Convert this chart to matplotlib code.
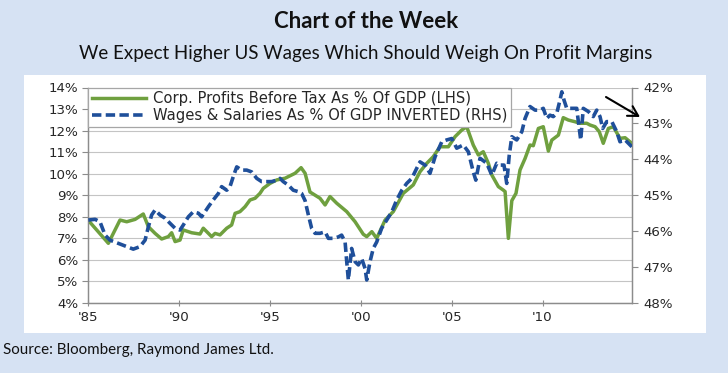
import matplotlib
matplotlib.use("Agg")
import matplotlib.pyplot as plt
from matplotlib.patches import FancyArrowPatch
from matplotlib.ticker import FixedLocator

# ---------------- data ----------------
profit_years = [1985.00, 1986.12, 1986.76, 1987.13, 1987.59, 1988.04, 1988.32, 1988.69,
                1989.05, 1989.42, 1989.60, 1989.79, 1990.06, 1990.24, 1990.70, 1991.16,
                1991.34, 1991.80, 1991.99, 1992.26, 1992.63, 1992.90, 1993.09, 1993.36,
                1993.64, 1993.91, 1994.19, 1994.46, 1994.64, 1995.01, 1995.38, 1995.84,
                1996.39, 1996.72, 1996.94, 1997.21, 1997.76, 1998.04, 1998.31, 1998.68,
                1999.23, 1999.69, 2000.14, 2000.33, 2000.61, 2000.88, 2001.34, 2001.79,
                2002.34, 2002.89, 2003.26, 2003.63, 2003.99, 2004.36, 2004.82, 2005.19,
                2005.56, 2005.83, 2006.19, 2006.47, 2006.74, 2007.02, 2007.21, 2007.57,
                2007.84, 2007.94, 2008.12, 2008.31, 2008.54, 2008.76, 2009.04, 2009.31,
                2009.49, 2009.77, 2010.04, 2010.32, 2010.51, 2010.87, 2011.14, 2011.42,
                2011.79, 2012.06, 2012.43, 2012.61, 2012.89, 2013.12, 2013.34, 2013.62,
                2013.89, 2014.26, 2014.54, 2014.91]
profit_pct = [7.85, 6.77, 7.85, 7.77, 7.88, 8.13, 7.54, 7.23,
              6.97, 7.08, 7.26, 6.85, 6.92, 7.39, 7.26, 7.20,
              7.47, 7.08, 7.23, 7.16, 7.47, 7.62, 8.16, 8.24,
              8.47, 8.78, 8.86, 9.09, 9.32, 9.55, 9.71, 9.79,
              10.02, 10.28, 10.02, 9.15, 8.86, 8.55, 8.94, 8.63,
              8.24, 7.77, 7.19, 7.08, 7.31, 7.00, 7.85, 8.24,
              9.09, 9.48, 10.09, 10.48, 10.79, 11.25, 11.25, 11.72,
              12.03, 12.18, 11.33, 10.87, 11.02, 10.48, 9.94, 9.40,
              9.24, 9.17, 7.00, 8.75, 9.09, 10.17, 10.71, 11.33,
              11.30, 12.10, 12.18, 11.05, 11.56, 11.79, 12.60, 12.49,
              12.41, 12.34, 12.34, 12.26, 12.18, 11.95, 11.41, 12.10,
              12.18, 11.64, 11.67, 11.41]

wage_years = [1985.02, 1985.39, 1985.66, 1985.94, 1986.21, 1986.67, 1987.13, 1987.49,
              1987.86, 1988.14, 1988.32, 1988.50, 1988.69, 1988.96, 1989.24, 1989.51,
              1989.79, 1990.06, 1990.24, 1990.52, 1990.79, 1991.07, 1991.25, 1991.62,
              1991.89, 1992.17, 1992.35, 1992.63, 1992.81, 1992.99, 1993.18, 1993.45,
              1993.73, 1994.00, 1994.28, 1994.55, 1994.83, 1995.10, 1995.38, 1995.56,
              1995.74, 1996.02, 1996.29, 1996.57, 1996.75, 1996.94, 1997.12, 1997.30,
              1997.49, 1997.76, 1998.04, 1998.22, 1998.49, 1998.77, 1998.95, 1999.14,
              1999.23, 1999.32, 1999.50, 1999.69, 1999.87, 2000.05, 2000.24, 2000.33,
              2000.51, 2000.69, 2000.88, 2001.15, 2001.43, 2001.71, 2001.98, 2002.26,
              2002.53, 2002.81, 2003.08, 2003.26, 2003.54, 2003.81, 2004.09, 2004.46,
              2004.73, 2005.01, 2005.28, 2005.64, 2005.92, 2006.19, 2006.33, 2006.56,
              2006.93, 2007.21, 2007.48, 2007.66, 2007.88, 2008.03, 2008.17, 2008.31,
              2008.58, 2008.86, 2009.04, 2009.31, 2009.59, 2009.86, 2010.04, 2010.23,
              2010.41, 2010.59, 2010.78, 2010.96, 2011.06, 2011.18, 2011.33, 2011.61,
              2011.88, 2011.97, 2012.10, 2012.24, 2012.52, 2012.79, 2012.98, 2013.16,
              2013.31, 2013.53, 2013.81, 2014.08, 2014.26, 2014.54, 2014.91]
wage_pct = [45.69, 45.67, 45.74, 46.11, 46.25, 46.34, 46.43, 46.50,
            46.43, 46.25, 45.88, 45.55, 45.41, 45.55, 45.64, 45.78,
            45.92, 45.97, 45.83, 45.60, 45.46, 45.50, 45.60, 45.32,
            45.13, 44.95, 44.76, 44.86, 44.76, 44.48, 44.21, 44.30,
            44.30, 44.35, 44.53, 44.62, 44.62, 44.62, 44.58, 44.53,
            44.62, 44.72, 44.86, 44.90, 44.95, 45.15, 45.55, 45.92,
            46.06, 46.06, 46.02, 46.20, 46.20, 46.16, 46.11, 46.30,
            46.85, 47.36, 46.48, 46.85, 46.94, 46.76, 47.04, 47.36,
            46.85, 46.48, 46.30, 45.92, 45.69, 45.46, 45.13, 44.86,
            44.67, 44.53, 44.25, 44.07, 44.16, 44.39, 43.93, 43.51,
            43.46, 43.42, 43.69, 43.60, 43.79, 44.35, 44.58, 43.97,
            44.11, 44.44, 44.11, 44.16, 44.16, 44.67, 43.88, 43.37,
            43.46, 43.23, 42.86, 42.53, 42.63, 42.63, 42.58, 42.86,
            42.77, 42.81, 42.72, 42.35, 42.12, 42.35, 42.58, 42.58,
            42.58, 42.95, 43.46, 42.58, 42.67, 42.81, 42.63, 42.81,
            43.14, 42.95, 42.95, 43.23, 43.51, 43.46, 43.65]

x_ticks = [1985, 1990, 1995, 2000, 2005, 2010]
x_tick_labels = ["'85", "'90", "'95", "'00", "'05", "'10"]
left_ticks = [4, 5, 6, 7, 8, 9, 10, 11, 12, 13, 14]
right_ticks = [42, 43, 44, 45, 46, 47, 48]

title = "Chart of the Week"
subtitle = "We Expect Higher US Wages Which Should Weigh On Profit Margins"
source = "Source: Bloomberg, Raymond James Ltd."
label_profit = "Corp. Profits Before Tax As % Of GDP (LHS)"
label_wage = "Wages & Salaries As % Of GDP INVERTED (RHS)"

# ---------------- figure ----------------
W, H = 728, 373
fig = plt.figure(figsize=(W / 100, H / 100), dpi=100)
fig.patch.set_facecolor("#d6e2f3")

# white panel (behind everything)
panel = fig.add_axes([24 / W, 1 - 333 / H, (706 - 24) / W, (333 - 75) / H], zorder=-5)
panel.set_facecolor("white")
panel.set_xticks([])
panel.set_yticks([])
for s in panel.spines.values():
    s.set_visible(False)

fig.text(0.503, 1 - 21 / H, title, ha="center", va="center",
         fontsize=16, fontweight="bold", family="Lato", color="#111111")
fig.text(0.503, 1 - 54 / H, subtitle, ha="center", va="center",
         fontsize=13.5, family="Lato", color="#111111")
fig.text(3 / W, 1 - 350 / H, source, ha="left", va="center",
         fontsize=10.9, family="Lato", color="#111111")

ax = fig.add_axes([88 / W, 1 - 303 / H, (632 - 88) / W, (303 - 87.5) / H], zorder=1)
ax.set_facecolor("none")
ax2 = ax.twinx()

green = "#6fa03f"
blue = "#1f4f9a"
gray = "#8c8c8c"

ax.plot(profit_years, profit_pct, color=green, lw=2.5, solid_joinstyle="round",
        label=label_profit, zorder=3)
ln2, = ax2.plot(wage_years, wage_pct, color=blue, lw=2.6, dashes=(2.6, 1.2),
                label=label_wage, zorder=3)

ax.set_xlim(1985, 2014.92)
ax.set_ylim(4, 14)
ax2.set_ylim(48, 42)

ax.yaxis.set_major_locator(FixedLocator(left_ticks))
ax.set_yticklabels([f"{v}%" for v in left_ticks])
ax2.yaxis.set_major_locator(FixedLocator(right_ticks))
ax2.set_yticklabels([f"{v}%" for v in right_ticks])
ax.set_xticks(x_ticks)
ax.set_xticklabels(x_tick_labels)

ax.grid(axis="y", color="#c4c4c4", lw=0.8)
ax.set_axisbelow(True)

for a in (ax, ax2):
    for s in a.spines.values():
        s.set_color(gray)
        s.set_linewidth(0.9)
    a.spines["top"].set_visible(False)

tick_fs = 9.6
ax.tick_params(axis="y", direction="out", length=4, color=gray, labelsize=tick_fs,
               labelcolor="#262626", pad=3)
ax2.tick_params(axis="y", direction="out", length=4, color=gray, labelsize=tick_fs,
                labelcolor="#262626", pad=4)
ax.tick_params(axis="x", direction="inout", length=5, color=gray, labelsize=tick_fs,
               labelcolor="#262626", pad=3)
for lab in ax.get_yticklabels() + ax2.get_yticklabels() + ax.get_xticklabels():
    lab.set_family("DejaVu Sans")

h1, l1 = ax.get_legend_handles_labels()
leg = ax2.legend(h1 + [ln2], l1 + [label_wage], loc="upper left",
                 bbox_to_anchor=(0, 1), borderaxespad=0, fontsize=10.6,
                 handlelength=3.7, handletextpad=0.45, borderpad=0.25,
                 labelspacing=0.15, fancybox=False, framealpha=1,
                 edgecolor="#a6a6a6", facecolor="white")
leg.get_frame().set_linewidth(0.9)
for t in leg.get_texts():
    t.set_color("#262626")

fig.add_artist(FancyArrowPatch(
    (606 / W, 1 - 97 / H), (640 / W, 1 - 117 / H), transform=fig.transFigure,
    arrowstyle="->,head_length=7,head_width=4", color="black", lw=1.5,
    shrinkA=0, shrinkB=0, zorder=10))

fig.savefig("out.png", dpi=100, facecolor=fig.get_facecolor())
